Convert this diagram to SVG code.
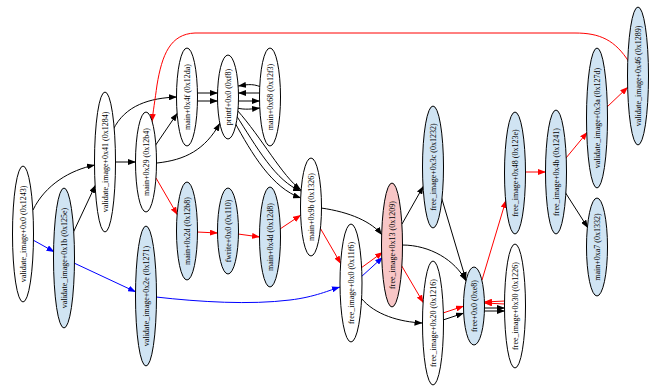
<svg xmlns="http://www.w3.org/2000/svg" width="654" height="389" viewBox="0 0 654 389">
<defs>
<marker id="ak" markerUnits="userSpaceOnUse" markerWidth="8" markerHeight="6" refX="8" refY="3" orient="auto"><path d="M0,0 L8,3 L0,6 z" fill="#000"/></marker>
<marker id="ar" markerUnits="userSpaceOnUse" markerWidth="8" markerHeight="6" refX="8" refY="3" orient="auto"><path d="M0,0 L8,3 L0,6 z" fill="#f00"/></marker>
<marker id="ab" markerUnits="userSpaceOnUse" markerWidth="8" markerHeight="6" refX="8" refY="3" orient="auto"><path d="M0,0 L8,3 L0,6 z" fill="#00f"/></marker>
</defs>
<style>
.n ellipse{stroke:#000;stroke-width:1;fill:#fff}
.n.b ellipse{fill:#d0e4f3}
.n.p ellipse{fill:#f8c6c6}
.n text{font-family:"Liberation Serif","Times New Roman",serif;font-size:8px;text-anchor:middle;fill:#000}
.e path{fill:none;stroke-width:1}
.k{stroke:#000;marker-end:url(#ak)}
.r{stroke:#f00;marker-end:url(#ar)}
.u{stroke:#00f;marker-end:url(#ab)}
</style>
<rect width="654" height="389" fill="#fff"/>
<g id="edges" class="e">
<path class="k" d="M33,210 C45,185 70,170 95,165"/>
<path class="k" d="M73,233 L95.5,185"/>
<path class="k" d="M115,162 L136,162"/>
<path class="k" d="M113,130 C125,105 150,98 177,97"/>
<path class="k" d="M155,146 L177.5,113"/>
<path class="k" d="M157,163 C185,160 205,150 220,123"/>
<path class="k" d="M197,93 L218,93"/>
<path class="k" d="M197,101 L218,101"/>
<path class="k" d="M261,87 C252,83 245,85 238,86"/>
<path class="k" d="M260,93 L238,93"/>
<path class="k" d="M238,101 L260,101"/>
<path class="k" d="M237,108 C245,110 252,109 260,108"/>
<path class="k" d="M237,110 C262,138 282,176 301,190"/>
<path class="k" d="M236,115 C256,146 276,182 301,191"/>
<path class="k" d="M234,121 C252,154 272,188 301,198"/>
<path class="k" d="M321,208 C350,212 372,222 382,235"/>
<path class="k" d="M361,298 C375,315 400,322 422.5,323"/>
<path class="k" d="M402,224 L423.5,186"/>
<path class="k" d="M402,245 C430,245 455,260 466,281"/>
<path class="k" d="M441,196 L466,280"/>
<path class="k" d="M443,320 L464,313"/>
<path class="k" d="M484,308 L505,308"/>
<path class="k" d="M484,311 L505,311"/>
<path class="k" d="M565,192 L588,228"/>
<path class="r" d="M156,178 L177.5,215"/>
<path class="r" d="M197,232 L218,233"/>
<path class="r" d="M238,234 L260,237"/>
<path class="r" d="M280,229 L301,215"/>
<path class="r" d="M319,226 L341,264"/>
<path class="r" d="M361,268 L383,252"/>
<path class="r" d="M400,263 L423.5,303"/>
<path class="r" d="M443,313 L464,306"/>
<path class="r" d="M505,301 L484,302"/>
<path class="r" d="M505,304 L484,303"/>
<path class="r" d="M482,280 L506,200"/>
<path class="r" d="M526,172 L546,172"/>
<path class="r" d="M566,158 L587.5,132"/>
<path class="r" d="M607,107 L628,87"/>
<path class="r" d="M629,62 C615,40 600,33 575,33 L195,33 C170,34 162,55 157,85 C155,100 153,112 152,122"/>
<path class="u" d="M33,240 L54.5,252"/>
<path class="u" d="M74,263 L136,292"/>
<path class="u" d="M156,297 C200,302 250,305 290,300 C315,297 330,290 340,287"/>
<path class="u" d="M361,277 L383,257"/>
</g>
<g id="n1" class="n"><ellipse cx="23" cy="234" rx="10.5" ry="68"/><text transform="translate(23,234) rotate(-90)" y="3">validate_image+0x0 (0x1243)</text></g>
<g id="n2" class="n b"><ellipse cx="64" cy="258" rx="10.5" ry="70"/><text transform="translate(64,258) rotate(-90)" y="3">validate_image+0x1b (0x125e)</text></g>
<g id="n3" class="n"><ellipse cx="105" cy="162" rx="10.5" ry="70"/><text transform="translate(105,162) rotate(-90)" y="3">validate_image+0x41 (0x1284)</text></g>
<g id="n4" class="n"><ellipse cx="146" cy="162" rx="10.5" ry="50"/><text transform="translate(146,162) rotate(-90)" y="3">main+0x29 (0x12b4)</text></g>
<g id="n5" class="n"><ellipse cx="187" cy="97" rx="10.5" ry="49"/><text transform="translate(187,97) rotate(-90)" y="3">main+0x4f (0x12da)</text></g>
<g id="n6" class="n"><ellipse cx="228" cy="97" rx="10.5" ry="42"/><text transform="translate(228,97) rotate(-90)" y="3">printf+0x0 (0xf8)</text></g>
<g id="n7" class="n"><ellipse cx="270" cy="97" rx="10.5" ry="49"/><text transform="translate(270,97) rotate(-90)" y="3">main+0x68 (0x12f3)</text></g>
<g id="n8" class="n b"><ellipse cx="187" cy="231" rx="10.5" ry="49"/><text transform="translate(187,231) rotate(-90)" y="3">main+0x2d (0x12b8)</text></g>
<g id="n9" class="n b"><ellipse cx="228" cy="231" rx="10.5" ry="43"/><text transform="translate(228,231) rotate(-90)" y="3">fwrite+0x0 (0x110)</text></g>
<g id="n10" class="n b"><ellipse cx="270" cy="237" rx="10.5" ry="50"/><text transform="translate(270,237) rotate(-90)" y="3">main+0x4d (0x12d8)</text></g>
<g id="n11" class="n"><ellipse cx="311" cy="207" rx="10.5" ry="49"/><text transform="translate(311,207) rotate(-90)" y="3">main+0x9b (0x1326)</text></g>
<g id="n12" class="n b"><ellipse cx="146" cy="296" rx="10.5" ry="70"/><text transform="translate(146,296) rotate(-90)" y="3">validate_image+0x2e (0x1271)</text></g>
<g id="n13" class="n"><ellipse cx="351" cy="283" rx="11" ry="59"/><text transform="translate(351,283) rotate(-90)" y="3">free_image+0x0 (0x11f6)</text></g>
<g id="n14" class="n p"><ellipse cx="392" cy="245" rx="10.5" ry="62"/><text transform="translate(392,245) rotate(-90)" y="3">free_image+0x13 (0x1209)</text></g>
<g id="n15" class="n b"><ellipse cx="433" cy="167" rx="10.5" ry="61"/><text transform="translate(433,167) rotate(-90)" y="3">free_image+0x3c (0x1232)</text></g>
<g id="n16" class="n"><ellipse cx="433" cy="323" rx="10.5" ry="62"/><text transform="translate(433,323) rotate(-90)" y="3">free_image+0x20 (0x1216)</text></g>
<g id="n17" class="n b"><ellipse cx="474" cy="306" rx="10.5" ry="39"/><text transform="translate(474,306) rotate(-90)" y="3">free+0x0 (0xe8)</text></g>
<g id="n18" class="n b"><ellipse cx="515" cy="173" rx="10.5" ry="61"/><text transform="translate(515,173) rotate(-90)" y="3">free_image+0x48 (0x123e)</text></g>
<g id="n19" class="n"><ellipse cx="515" cy="306" rx="10.5" ry="62"/><text transform="translate(515,306) rotate(-90)" y="3">free_image+0x30 (0x1226)</text></g>
<g id="n20" class="n b"><ellipse cx="556" cy="172" rx="10.5" ry="62"/><text transform="translate(556,172) rotate(-90)" y="3">free_image+0x4b (0x1241)</text></g>
<g id="n21" class="n b"><ellipse cx="597" cy="118" rx="10.5" ry="70"/><text transform="translate(597,118) rotate(-90)" y="3">validate_image+0x3a (0x127d)</text></g>
<g id="n22" class="n b"><ellipse cx="597" cy="247" rx="10.5" ry="49"/><text transform="translate(597,247) rotate(-90)" y="3">main+0xa7 (0x1332)</text></g>
<g id="n23" class="n b"><ellipse cx="638" cy="76" rx="10.5" ry="69"/><text transform="translate(638,76) rotate(-90)" y="3">validate_image+0x46 (0x1289)</text></g>
</svg>
